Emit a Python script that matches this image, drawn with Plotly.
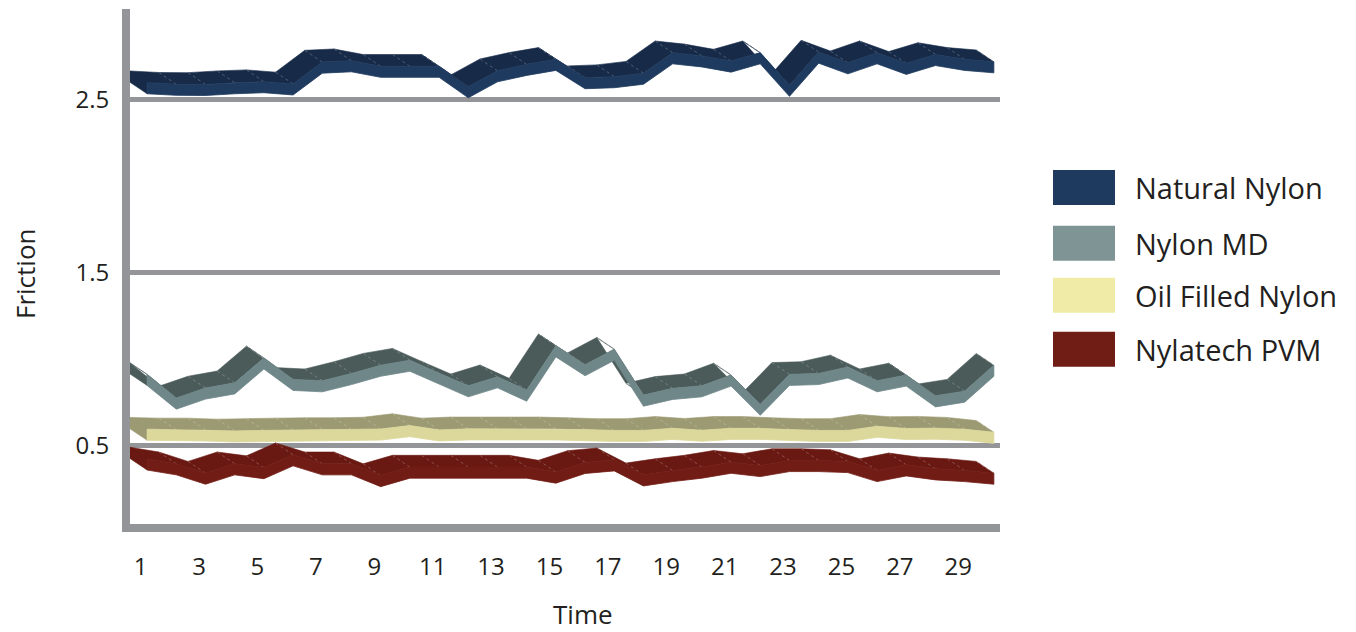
import plotly.graph_objects as go

# ---------------- data ----------------
time = list(range(1, 31))
series_names = ["Natural Nylon", "Nylon MD", "Oil Filled Nylon", "Nylatech PVM"]
natural_nylon = [2.565, 2.556, 2.555, 2.565, 2.571, 2.558, 2.684, 2.692, 2.66, 2.66,
                 2.66, 2.542, 2.634, 2.671, 2.70, 2.594, 2.60, 2.62, 2.738, 2.72,
                 2.69, 2.738, 2.55, 2.742, 2.68, 2.738, 2.677, 2.728, 2.70, 2.686]
nylon_md = [0.879, 0.742, 0.80, 0.83, 0.974, 0.85, 0.842, 0.884, 0.932, 0.961,
            0.886, 0.813, 0.865, 0.788, 1.044, 0.935, 1.024, 0.759, 0.798, 0.813,
            0.875, 0.706, 0.879, 0.884, 0.922, 0.842, 0.875, 0.755, 0.782, 0.932]
oil_filled = [0.562, 0.558, 0.558, 0.552, 0.555, 0.558, 0.56, 0.56, 0.563, 0.583,
              0.558, 0.564, 0.564, 0.564, 0.564, 0.56, 0.555, 0.555, 0.567, 0.556,
              0.567, 0.567, 0.56, 0.555, 0.555, 0.579, 0.566, 0.568, 0.562, 0.544]
nylatech = [0.39, 0.362, 0.308, 0.362, 0.34, 0.414, 0.362, 0.362, 0.294, 0.343,
            0.343, 0.343, 0.343, 0.343, 0.314, 0.37, 0.385, 0.298, 0.323, 0.343,
            0.371, 0.352, 0.381, 0.381, 0.375, 0.323, 0.356, 0.333, 0.323, 0.308]
x_tick_labels = [str(t) for t in range(1, 30, 2)]
y_tick_values = [0.5, 1.5, 2.5]
y_tick_labels = ["0.5", "1.5", "2.5"]
x_title = "Time"
y_title = "Friction"

# ---------------- styles ----------------
front_colors = ["#1e3a5e", "#6f8789", "#dcd89c", "#711c14"]
top_colors = ["#172b49", "#4a5b5a", "#9c9a72", "#6a1912"]
legend_colors = ["#1f3a5f", "#7f9595", "#f0eca8", "#6f1d15"]
GRAY = "#939598"
TEXT = "#231f20"
FONT = "Open Sans"

# pseudo-3D ribbon geometry (in data units)
X_SHIFT = 0.22      # front face position relative to category
DEPTH_X = -0.6      # depth offset of back edge
DEPTH_Y = 0.068
HALF_H = 0.032      # half thickness of front face

fig = go.Figure()
all_values = [natural_nylon, nylon_md, oil_filled, nylatech]

for name, vals, fc, tc in zip(series_names, all_values, front_colors, top_colors):
    xf = [t + X_SHIFT for t in time]
    ft = [v + HALF_H for v in vals]
    fb = [v - HALF_H for v in vals]
    xb = [x + DEPTH_X for x in xf]
    bt = [y + DEPTH_Y for y in ft]
    bb = [y + DEPTH_Y for y in fb]

    # top face quads
    qx, qy = [], []
    for i in range(len(time) - 1):
        qx += [xf[i], xf[i + 1], xb[i + 1], xb[i], xf[i], None]
        qy += [ft[i], ft[i + 1], bt[i + 1], bt[i], ft[i], None]
    # left end cap
    qx += [xf[0], xb[0], xb[0], xf[0], xf[0], None]
    qy += [ft[0], bt[0], bb[0], fb[0], ft[0], None]
    fig.add_trace(go.Scatter(x=qx, y=qy, mode="lines", fill="toself",
                             fillcolor=tc, line=dict(color=tc, width=0.6),
                             hoverinfo="skip", showlegend=False))
    # hatch lines on top face
    hx, hy = [], []
    for i in range(1, len(time)):
        hx += [xf[i], xb[i], None]
        hy += [ft[i], bt[i], None]
    fig.add_trace(go.Scatter(x=hx, y=hy, mode="lines",
                             line=dict(color="rgba(255,255,255,0.35)", width=0.7, dash="dot"),
                             hoverinfo="skip", showlegend=False))
    # front face
    fig.add_trace(go.Scatter(x=xf + xf[::-1] + [xf[0]], y=ft + fb[::-1] + [ft[0]],
                             mode="lines", fill="toself", fillcolor=fc,
                             line=dict(color=fc, width=0.8),
                             name=name, showlegend=False, hoverinfo="skip"))

# ---------------- layout ----------------
PAGE_OFF = 8                       # default body margin of the html page
W, H = 1356 - PAGE_OFF, 632 - PAGE_OFF
L, R, T, B = 130 - PAGE_OFF, 1000 - PAGE_OFF, 9 - PAGE_OFF, 524 - PAGE_OFF


def px(x):
    return (x - PAGE_OFF - L) / (R - L)


def py(y):
    return (B - (y - PAGE_OFF)) / (B - T)


shapes = []
annotations = []
row_centers = [187.5, 243.3, 295.2, 349.3]
for name, col, yc in zip(series_names, legend_colors, row_centers):
    shapes.append(dict(type="rect", xref="paper", yref="paper",
                       x0=px(1053), x1=px(1115), y0=py(yc + 17.5), y1=py(yc - 17.5),
                       fillcolor=col, line=dict(width=0)))
    annotations.append(dict(text=name, xref="paper", yref="paper",
                            x=px(1133), y=py(yc), xanchor="left", yanchor="middle",
                            showarrow=False, font=dict(family=FONT, size=29, color=TEXT)))

annotations.append(dict(text=x_title, xref="paper", yref="paper", x=px(583), y=py(614),
                        xanchor="center", yanchor="middle", showarrow=False,
                        font=dict(family=FONT, size=26, color=TEXT)))
annotations.append(dict(text=y_title, xref="paper", yref="paper", x=px(25), y=py(274),
                        xanchor="center", yanchor="middle", showarrow=False, textangle=-90,
                        font=dict(family=FONT, size=26, color=TEXT)))

fig.update_layout(
    width=W, height=H,
    margin=dict(l=L, r=W - R, t=T, b=H - B),
    paper_bgcolor="white", plot_bgcolor="white",
    showlegend=False,
    shapes=shapes, annotations=annotations,
    font=dict(family=FONT, color=TEXT),
    xaxis=dict(range=[0.634, 30.43], tickvals=list(range(1, 30, 2)),
               ticktext=x_tick_labels, showgrid=False, zeroline=False,
               showline=True, linecolor=GRAY, linewidth=8, ticks="",
               tickfont=dict(size=24), ticklabelstandoff=14, automargin=False),
    yaxis=dict(range=[0.046, 3.023], tickvals=y_tick_values, ticktext=y_tick_labels,
               showgrid=True, gridcolor=GRAY, gridwidth=5, zeroline=False,
               showline=True, linecolor=GRAY, linewidth=8, ticks="",
               tickfont=dict(size=24), ticklabelstandoff=8, automargin=False),
)

fig.write_html("out.html")
